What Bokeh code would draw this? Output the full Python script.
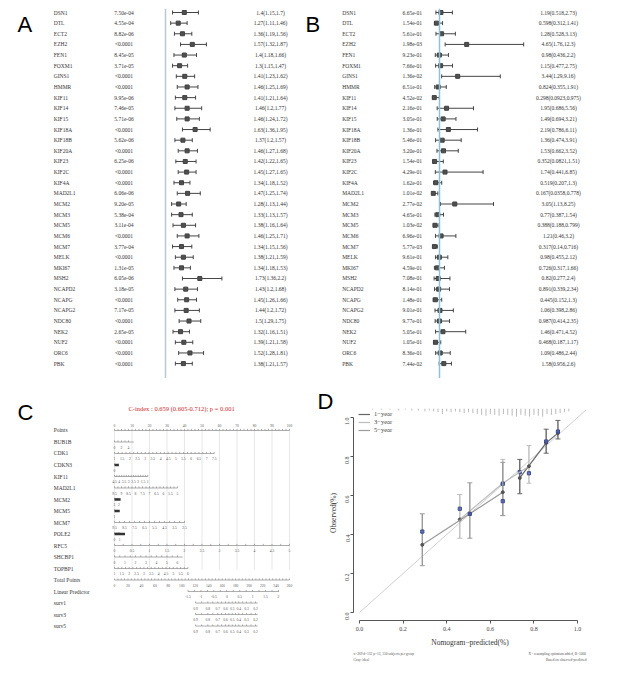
import numpy as np
from bokeh.plotting import figure
from bokeh.layouts import row, column
from bokeh.models import Range1d, Span, Legend, LegendItem, FixedTicker, PrintfTickFormatter, Title
from bokeh.core.properties import value
from bokeh.embed import file_html
from bokeh.resources import INLINE

# ---------------- data ----------------
genes = ["DSN1", "DTL", "ECT2", "EZH2", "FEN1", "FOXM1", "GINS1", "HMMR", "KIF11", "KIF14",
         "KIF15", "KIF18A", "KIF18B", "KIF20A", "KIF23", "KIF2C", "KIF4A", "MAD2L1", "MCM2",
         "MCM3", "MCM5", "MCM6", "MCM7", "MELK", "MKI67", "MSH2", "NCAPD2", "NCAPG", "NCAPG2",
         "NDC80", "NEK2", "NUF2", "ORC6", "PBK"]

a_p = ["7.50e-04", "4.55e-04", "8.82e-06", "<0.0001", "8.45e-05", "3.71e-05", "<0.0001", "<0.0001",
       "9.95e-06", "7.46e-05", "5.71e-06", "<0.0001", "5.62e-06", "<0.0001", "6.25e-06", "<0.0001",
       "<0.0001", "6.06e-06", "9.20e-05", "5.38e-04", "3.11e-04", "<0.0001", "3.77e-04", "<0.0001",
       "1.31e-05", "6.05e-06", "3.18e-05", "<0.0001", "7.17e-05", "<0.0001", "2.65e-05", "<0.0001",
       "<0.0001", "<0.0001"]
a_hr = [1.4, 1.27, 1.36, 1.57, 1.4, 1.3, 1.41, 1.46, 1.41, 1.46, 1.46, 1.63, 1.37, 1.46, 1.42, 1.45,
        1.34, 1.47, 1.28, 1.33, 1.38, 1.46, 1.34, 1.38, 1.34, 1.73, 1.43, 1.45, 1.44, 1.5, 1.32, 1.39,
        1.52, 1.38]
a_lo = [1.15, 1.11, 1.19, 1.32, 1.18, 1.15, 1.23, 1.25, 1.21, 1.2, 1.24, 1.36, 1.2, 1.27, 1.22, 1.27,
        1.18, 1.25, 1.13, 1.13, 1.16, 1.25, 1.15, 1.21, 1.18, 1.36, 1.2, 1.26, 1.2, 1.29, 1.16, 1.21,
        1.28, 1.21]
a_hi = [1.7, 1.46, 1.56, 1.87, 1.66, 1.47, 1.62, 1.69, 1.64, 1.77, 1.72, 1.95, 1.57, 1.68, 1.65, 1.65,
        1.52, 1.74, 1.44, 1.57, 1.64, 1.71, 1.56, 1.59, 1.53, 2.2, 1.68, 1.66, 1.72, 1.75, 1.51, 1.58,
        1.81, 1.57]

b_p = ["6.65e-01", "1.54e-01", "5.61e-01", "1.98e-03", "9.23e-01", "7.66e-01", "1.36e-02", "6.51e-01",
       "4.52e-02", "2.16e-01", "3.05e-01", "1.36e-01", "5.46e-01", "3.20e-01", "1.54e-01", "4.29e-01",
       "1.62e-01", "1.01e-02", "2.77e-02", "4.65e-01", "1.03e-02", "6.96e-01", "5.77e-03", "9.61e-01",
       "4.59e-01", "7.08e-01", "8.14e-01", "1.48e-01", "9.01e-01", "9.77e-01", "5.05e-01", "1.05e-01",
       "8.36e-01", "7.44e-02"]
b_hr = [1.19, 0.598, 1.28, 4.65, 0.98, 1.15, 3.44, 0.824, 0.298, 1.95, 1.49, 2.19, 1.36, 1.53, 0.352,
        1.74, 0.519, 0.167, 3.05, 0.77, 0.388, 1.21, 0.317, 0.98, 0.726, 0.82, 0.891, 0.445, 1.06,
        0.987, 1.46, 0.468, 1.09, 1.58]
b_lo = [0.518, 0.312, 0.528, 1.76, 0.436, 0.477, 1.29, 0.355, 0.0923, 0.686, 0.694, 0.786, 0.474,
        0.662, 0.0821, 0.441, 0.207, 0.0358, 1.13, 0.387, 0.188, 0.46, 0.14, 0.455, 0.317, 0.277,
        0.339, 0.152, 0.398, 0.414, 0.471, 0.187, 0.486, 0.956]
b_hi = [2.73, 1.41, 3.13, 12.3, 2.2, 2.75, 9.16, 1.91, 0.975, 5.56, 3.21, 6.11, 3.91, 3.52, 1.51, 6.85,
        1.3, 0.778, 8.25, 1.54, 0.799, 3.2, 0.716, 2.12, 1.66, 2.4, 2.34, 1.3, 2.86, 2.35, 4.52, 1.17,
        2.44, 2.6]

# nomogram (panel C)
nomo_title = "C-index : 0.659 (0.605-0.712); p = 0.001"
nomo_rows = ["Points", "BUB1B", "CDK1", "CDKN3", "KIF11", "MAD2L1", "MCM2", "MCM5", "MCM7", "POLE2",
             "RFC5", "SHCBP1", "TOPBP1", "Total Points", "Linear Predictor", "surv1", "surv3", "surv5"]
points_lab = ["0", "10", "20", "30", "40", "50", "60", "70", "80", "90", "100"]
bub1b_lab = ["0", "2", "4"]
cdk1_lab = ["1", "1.5", "2", "2.5", "3", "3.5", "4", "4.5", "5", "5.5", "6", "6.5", "7", "7.5"]
cdkn3_lab = ["0"]
kif11_lab = ["4.5", "4", "3.5", "3", "2.5", "2", "1.5", "1"]
mad2l1_lab = ["9.5", "9", "8.5", "8", "7.5", "7", "6.5", "6", "5.5", "5"]
mcm2_lab = ["3", "2"]
mcm5_lab = ["1"]
mcm7_lab = ["9.5", "8.5", "7.5", "6.5", "5.5", "4.5", "3.5", "2.5"]
pole2_lab = ["0", "1"]
rfc5_lab = ["0", "0.5", "1", "1.5", "2", "2.5", "3", "3.5", "4", "4.5", "5"]
shcbp1_lab = ["0", "1", "2", "3", "4", "5", "6"]
topbp1_lab = ["1", "1.5", "2", "2.5", "3", "3.5", "4", "4.5", "5", "5.5", "6"]
total_lab = ["0", "20", "40", "60", "80", "100", "120", "140", "160", "180", "200", "220", "240", "260"]
lp_lab = ["-1.5", "-1", "-0.5", "0", "0.5", "1", "1.5", "2"]
surv_lab = ["0.9", "0.8", "0.7", "0.6", "0.5", "0.4", "0.3", "0.2"]
# points (0-100 scale) reached by first/last label, and by the end of each scale line
bub1b_pts = (0, 8, 11)
cdk1_pts = (0, 57, 57)
cdkn3_pts = (0, 0, 2.5)
kif11_pts = (0, 19, 19)
mad2l1_pts = (0, 36, 36)
mcm2_pts = (0, 2.5, 3.5)
mcm5_pts = (0, 0, 3)
mcm7_pts = (0, 40, 40)
pole2_pts = (0, 3, 6)
rfc5_pts = (0, 100, 100)
shcbp1_pts = (0, 36, 39)
topbp1_pts = (0, 42, 42)
lp_pts = (42, 93.7, 94)
surv_pts = [46.3, 53.3, 59.0, 63.4, 67.3, 71.0, 75.4, 80.6]

# calibration (panel D)
cal_names = ["1\u2212year", "3\u2212year", "5\u2212year"]
c1_x = [0.735, 0.856, 0.91]
c1_y = [0.69, 0.87, 0.92]
c1_lo = [0.609, 0.817, 0.89]
c1_hi = [0.785, 0.94, 0.985]
c1_corr = [0.72, 0.877, 0.928]
c3_x = [0.46, 0.657, 0.777]
c3_y = [0.477, 0.663, 0.75]
c3_lo = [0.381, 0.497, 0.663]
c3_hi = [0.605, 0.785, 0.856]
c3_corr = [0.532, 0.66, 0.714]
c5_x = [0.288, 0.506, 0.657]
c5_y = [0.347, 0.506, 0.617]
c5_lo = [0.24, 0.381, 0.497]
c5_hi = [0.506, 0.665, 0.77]
c5_corr = [0.415, 0.506, 0.571]
ideal = [0, 1.04]
rug_x = [0.06, 0.10, 0.14, 0.18, 0.21, 0.24, 0.27, 0.30, 0.32, 0.34, 0.36, 0.38, 0.40, 0.42, 0.44,
         0.46, 0.48, 0.50, 0.52, 0.54, 0.56, 0.58, 0.60, 0.62, 0.64, 0.66, 0.68, 0.70, 0.72, 0.74,
         0.76, 0.78, 0.80, 0.82, 0.84, 0.86, 0.88, 0.90, 0.92, 0.94, 0.96]
rug_n = [1, 1, 1, 2, 1, 2, 2, 3, 2, 3, 4, 6, 3, 4, 3, 4, 5, 4, 5, 6, 7, 8, 6, 7, 8, 6, 7, 8, 9, 7,
         8, 9, 7, 8, 9, 6, 7, 6, 5, 4, 3]
foot_left = ["n=369 d=132 p=13, 150 subjects per group", "Gray: ideal"]
foot_right = ["X - resampling optimism added, B=1000", "Based on observed-predicted"]

SERIF = "Liberation Serif"
SANS = "Liberation Sans"
TXT = "#333333"


def fmt(v):
    return f"{v:.3g}"


def no_align(p):
    if "frame_align" in p.properties():
        p.frame_align = False


def blank(width, height, xr, yr):
    p = figure(width=width, height=height, x_range=xr, y_range=yr, output_backend="svg",
               toolbar_location=None, min_border=0, title=None,
               x_axis_location=None, y_axis_location=None)
    p.grid.visible = False
    p.outline_line_color = None
    no_align(p)
    return p


def forest(width, x0, x1, hr, lo, hi, pvals, xg, xp, xh, letter, xl, refcol):
    n = len(genes)
    y = list(range(n))
    p = blank(width, 370, Range1d(x0, x1), Range1d(34.4, -0.376))
    p.add_layout(Span(location=1, dimension="height", line_color=refcol, line_width=1.5))
    p.segment(x0=lo, y0=y, x1=hi, y1=y, line_color="#444444", line_width=1)
    p.scatter(x=lo + hi, y=y + y, marker="dash", angle=np.pi / 2, size=4,
              line_color="#444444", line_width=1)
    p.scatter(x=hr, y=y, marker="square", size=4, fill_color="#505050", line_color="#404040")
    p.text(x=[xg] * n, y=y, text=genes, text_font=value(SERIF), text_font_size="5.5px",
           text_baseline="middle", text_align="left", text_color=TXT)
    p.text(x=[xp] * n, y=y, text=pvals, text_font=value(SERIF), text_font_size="5.5px",
           text_baseline="middle", text_align="center", text_color=TXT)
    labels = [f"{fmt(h)}({fmt(l)},{fmt(u)})" for h, l, u in zip(hr, lo, hi)]
    p.text(x=[xh] * n, y=y, text=labels, text_font=value(SERIF), text_font_size="5.5px",
           text_baseline="middle", text_align="center", text_color=TXT)
    p.text(x=[xl], y=[1.17], text=[letter], text_font=value(SANS), text_font_size="22px",
           text_baseline="alphabetic", text_align="left", text_color="#000000")
    return p


pA = forest(295, -2.3404, 3.936, a_hr, a_lo, a_hi, a_p, -1.377, 0.117, 3.234, "A", -2.149, "#b9c9cd")
pB = forest(310, -17.255, 24.356, b_hr, b_lo, b_hi, b_p, -12.06, -2.66, 16.97, "B", -16.99, "#8fc0dc")

# ---------------- panel C: nomogram ----------------
pC = blank(295, 294, Range1d(-60.57, 108), Range1d(21.04, -4.52))
segs = {"x0": [], "y0": [], "x1": [], "y1": []}
thick = {"x0": [], "y0": [], "x1": [], "y1": []}
tx, ty, tt = [], [], []


def nomo_axis(k, labels, pts, lend, below=True, div=2, heavy=False):
    ticks = []
    for i in range(len(pts) - 1):
        for j in range(div):
            ticks.append(pts[i] + (pts[i + 1] - pts[i]) * j / div)
    ticks.append(pts[-1])
    tgt = thick if heavy else segs
    tgt["x0"].append(float(pts[0])); tgt["x1"].append(float(lend))
    tgt["y0"].append(float(k)); tgt["y1"].append(float(k))
    for t in ticks:
        segs["x0"].append(float(t)); segs["x1"].append(float(t))
        segs["y0"].append(float(k)); segs["y1"].append(k - 0.14)
    for lab, x in zip(labels, pts):
        tx.append(float(x)); ty.append(k - 0.42 if not below else k + 0.45); tt.append(lab)


def lin(lab, spec):
    a, b, e = spec
    if len(lab) == 1:
        return [a], e
    return [float(v) for v in np.linspace(a, b, len(lab))], e


gx = [float(v) for v in points_lab]
pC.segment(x0=gx, y0=[0.0] * len(gx), x1=gx, y1=[12.1] * len(gx), line_color="#e2e2e2", line_width=0.8)

nomo_axis(0, points_lab, [float(v) for v in points_lab], 100, below=False, div=5)
specs = [(bub1b_lab, bub1b_pts, False), (cdk1_lab, cdk1_pts, False), (cdkn3_lab, cdkn3_pts, True),
         (kif11_lab, kif11_pts, False), (mad2l1_lab, mad2l1_pts, False), (mcm2_lab, mcm2_pts, True),
         (mcm5_lab, mcm5_pts, True), (mcm7_lab, mcm7_pts, False), (pole2_lab, pole2_pts, True),
         (rfc5_lab, rfc5_pts, False), (shcbp1_lab, shcbp1_pts, False), (topbp1_lab, topbp1_pts, False)]
for k, (lab, spec, heavy) in enumerate(specs, start=1):
    pts, e = lin(lab, spec)
    nomo_axis(k, lab, pts, e, div=2 if not heavy else 4, heavy=heavy)
tp = [float(v) for v in np.linspace(0, 100, len(total_lab))]
nomo_axis(13, total_lab, tp, 100, div=4)
lpp, lpe = lin(lp_lab, lp_pts)
nomo_axis(14, lp_lab, lpp, lpe, div=2)
for k in (15, 16, 17):
    nomo_axis(k, surv_lab, surv_pts, surv_pts[-1] + 1.2, div=2)

pC.segment(x0=segs["x0"], y0=segs["y0"], x1=segs["x1"], y1=segs["y1"], line_color="#8a8a8a", line_width=0.7)
pC.segment(x0=thick["x0"], y0=thick["y0"], x1=thick["x1"], y1=thick["y1"], line_color="#333333", line_width=2.5)
pC.text(x=tx, y=ty, text=tt, text_font=value(SERIF), text_font_size="3.6px", text_baseline="middle",
        text_align="center", text_color="#555555")
pC.text(x=[-34.7] * len(nomo_rows), y=[float(k) for k in range(len(nomo_rows))], text=nomo_rows,
        text_font=value(SERIF), text_font_size="5.5px", text_baseline="middle", text_align="left",
        text_color=TXT)
pC.text(x=[38.3], y=[-1.91], text=[nomo_title], text_font=value(SERIF), text_font_size="6.5px",
        text_baseline="middle", text_align="center", text_color="#cc2a2a")
pC.text(x=[-55.4], y=[-1.565], text=["C"], text_font=value(SANS), text_font_size="22px",
        text_baseline="alphabetic", text_align="left", text_color="#000000")

# ---------------- panel D: calibration ----------------
pD = figure(width=310, height=294, x_range=Range1d(-0.0275, 1.041), y_range=Range1d(-0.041, 1.0615),
            output_backend="svg", toolbar_location=None, title=None,
            min_border_left=50, min_border_right=27, min_border_top=27, min_border_bottom=52)
no_align(pD)
pD.grid.visible = False
pD.outline_line_color = None
ticks = [0.0, 0.2, 0.4, 0.6, 0.8, 1.0]
for ax in (pD.xaxis[0], pD.yaxis[0]):
    ax.ticker = FixedTicker(ticks=ticks)
    ax.formatter = PrintfTickFormatter(format="%.1f")
    ax.bounds = (0, 1)
    ax.minor_tick_line_color = None
    ax.major_tick_out = 3
    ax.major_tick_in = 0
    ax.axis_line_color = "#555555"
    ax.major_tick_line_color = "#555555"
    ax.major_label_text_font = SERIF
    ax.major_label_text_font_size = "6px"
    ax.major_label_text_color = "#444444"
    ax.major_label_standoff = 3
    ax.axis_label_text_font = SERIF
    ax.axis_label_text_font_size = "7.5px"
    ax.axis_label_text_font_style = "normal"
    ax.axis_label_text_color = "#333333"
pD.yaxis.major_label_orientation = np.pi / 2
pD.xaxis.axis_label = "Nomogram\u2212predicted(%)"
pD.yaxis.axis_label = "Observed(%)"
pD.xaxis.axis_label_standoff = 4
pD.yaxis.axis_label_standoff = 3

pD.line(ideal, ideal, line_color="#cfcfcf", line_width=1)
top = 1.045
pD.segment(x0=rug_x, y0=[top] * len(rug_x), x1=rug_x, y1=[top - 0.0045 * n for n in rug_n],
           line_color="#8c8c8c", line_width=0.6)

cols = ["#666666", "#bdbdbd", "#9a9a9a"]
items = []
for name, col, xs, ys, lo, hi, corr in zip(cal_names, cols, [c1_x, c3_x, c5_x], [c1_y, c3_y, c5_y],
                                             [c1_lo, c3_lo, c5_lo], [c1_hi, c3_hi, c5_hi],
                                             [c1_corr, c3_corr, c5_corr]):
    r = pD.line(xs, ys, line_color=col, line_width=1.2)
    pD.segment(x0=xs, y0=lo, x1=xs, y1=hi, line_color=col, line_width=1.4)
    pD.scatter(x=xs + xs, y=lo + hi, marker="dash", size=5, line_color=col, line_width=1)
    pD.scatter(x=xs, y=ys, marker="circle", size=3, fill_color="#555555", line_color="#555555")
    pD.scatter(x=xs, y=corr, marker="square", size=3.2, fill_color="#5060a8", line_color="#3c4a90",
               fill_alpha=0.8)
    items.append(LegendItem(label=name, renderers=[r]))

leg = Legend(items=items, location="top_left", label_text_font=SERIF, label_text_font_size="6.5px",
             label_text_color="#444444", glyph_width=12, glyph_height=6, label_height=6,
             spacing=1, padding=2, margin=5, background_fill_alpha=0, border_line_color=None,
             label_standoff=4)
pD.add_layout(leg)

pD.add_layout(Title(text="D", align="left", offset=-36, standoff=-17, text_font=SANS,
                    text_font_size="22px", text_font_style="normal", text_color="#000000",
                    text_line_height=1.0), "above")
gaps = [131, 202]
for lt, rt, g in zip(foot_left, foot_right, gaps):
    pD.add_layout(Title(text=lt + "\u00a0" * g + rt, align="left", text_font=SERIF,
                        text_font_size="3.5px", text_color="#555555", text_font_style="normal",
                        standoff=0), "below")

layout = column(row(pA, pB, spacing=0), row(pC, column(pD), spacing=0), spacing=0, margin=(8, 0, 0, 8))
open("out.html", "w").write(file_html(layout, INLINE))
